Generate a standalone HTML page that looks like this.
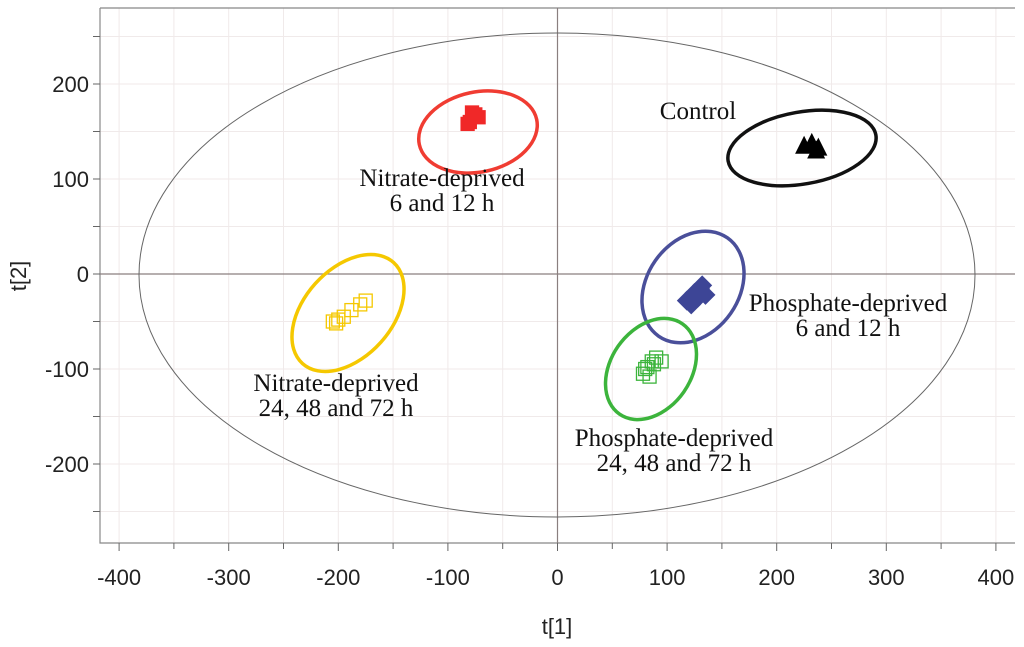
<!DOCTYPE html>
<html><head><meta charset="utf-8"><style>
html,body{margin:0;padding:0;background:#fff;width:1024px;height:647px;overflow:hidden}
svg{display:block}
.tk{font-family:"Liberation Sans",sans-serif;font-size:22px;fill:#222}
.lb{font-family:"Liberation Serif",serif;font-size:25px;fill:#111}
</style></head><body>
<svg id="chart" width="1024" height="647" xmlns="http://www.w3.org/2000/svg">
<g id="grid"></g>
<g id="axes"></g>
<g id="marks"></g>
<g id="labels"></g>
</svg>
<script>
const xTicks=[-400,-300,-200,-100,0,100,200,300,400];
const yTicks=[-200,-100,0,100,200];
const redX=[-80,-75,-72,-82,-78];
const redY=[160,168,165,158,170];
const blackX=[225,232,238,236];
const blackY=[135,138,133,130];
const blueX=[118,125,130,135,122,128,132];
const blueY=[-28,-20,-15,-22,-32,-25,-12];
const greenX=[78,82,86,90,95,80,88,84];
const greenY=[-105,-98,-92,-88,-92,-100,-95,-108];
const yellowX=[-205,-200,-195,-188,-180,-175,-202];
const yellowY=[-50,-48,-45,-38,-32,-28,-52];
const NS="http://www.w3.org/2000/svg";
const X=v=>557.5+v*1.096;
const Y=v=>274+v*-0.95;
function mk(p,t,a){const e=document.createElementNS(NS,t);for(const k in a)e.setAttribute(k,a[k]);p.appendChild(e);return e;}
const grid=document.getElementById('grid'),axes=document.getElementById('axes'),marks=document.getElementById('marks'),labels=document.getElementById('labels');
for(let v=-400;v<=450;v+=50){let g=mk(grid,'line',{x1:X(v),x2:X(v),y1:8,y2:543,stroke:'#f0eaea','stroke-width':1});}
for(let v=-250;v<=250;v+=50){let g=mk(grid,'line',{x1:100,x2:1015,y1:Y(v),y2:Y(v),stroke:'#f0eaea','stroke-width':1});}
let fr=mk(axes,'path',{d:'M100,8 H1015 M100,8 V543 H1015',fill:'none',stroke:'#888','stroke-width':1.2});

for(let v=-400;v<=400;v+=50){let t=mk(axes,'line',{x1:X(v),x2:X(v),y1:543,y2:v%100===0?551:549,stroke:'#666'});}
for(let v=-250;v<=250;v+=50){let t=mk(axes,'line',{x1:93,x2:100,y1:Y(v),y2:Y(v),stroke:'#666'});}
xTicks.forEach(v=>{let t=mk(axes,'text',{x:X(v),y:585,'text-anchor':'middle',class:'tk'});t.textContent=v;});
yTicks.forEach(v=>{let t=mk(axes,'text',{x:89,y:Y(v)+8,'text-anchor':'end',class:'tk'});t.textContent=v;});
let xt=mk(axes,'text',{x:557,y:634,'text-anchor':'middle',class:'tk'});xt.textContent='t[1]';
let yt=mk(axes,'text',{x:0,y:0,'text-anchor':'middle',class:'tk',transform:'translate(26,276) rotate(-90)'});yt.textContent='t[2]';
let z1=mk(axes,'line',{x1:X(0),x2:X(0),y1:8,y2:543,stroke:'#8a7f7f','stroke-width':1.2});
let z2=mk(axes,'line',{x1:100,x2:1015,y1:Y(0),y2:Y(0),stroke:'#8a7f7f','stroke-width':1.2});
let he=mk(marks,'ellipse',{cx:557,cy:275,rx:418,ry:242,fill:'none',stroke:'#666','stroke-width':1});
function ell(name,cx,cy,rx,ry,rot,col){let e=mk(marks,'ellipse',{cx:cx,cy:cy,rx:rx,ry:ry,fill:'none',stroke:col,'stroke-width':3.5,transform:`rotate(${rot} ${cx} ${cy})`});}
ell('red-ellipse',478,132,60,40,-12,'#f03c32');
ell('black-ellipse',802,148,75,36,-10,'#111');
ell('blue-ellipse',693,287,60,46,-55,'#4a4f9a');
ell('green-ellipse',651,369,55,40,-55,'#3cb43c');
ell('yellow-ellipse',348,313,68,44,-48,'#f5c800');
function sq(xs,ys,col,fill,name){xs.forEach((v,i)=>{let r=mk(marks,'rect',{x:X(v)-6.5,y:Y(ys[i])-6.5,width:13,height:13,fill:fill?col:'none',stroke:col,'stroke-width':1.3});});}
sq(redX,redY,'#f02828',true,'red-point');
sq(greenX,greenY,'#3cb43c',false,'green-point');
sq(yellowX,yellowY,'#f5c800',false,'yellow-point');
blackX.forEach((v,i)=>{const x=X(v),y=Y(blackY[i]);let p=mk(marks,'path',{d:`M${x},${y-10}L${x+9},${y+8}L${x-9},${y+8}Z`,fill:'#000'});});
blueX.forEach((v,i)=>{const x=X(v),y=Y(blueY[i]);let p=mk(marks,'path',{d:`M${x},${y-10}L${x+10},${y}L${x},${y+10}L${x-10},${y}Z`,fill:'#3d4596'});});
function lab(name,x,y,lines){let t=mk(labels,'text',{x:x,y:y,'text-anchor':'middle',class:'lb'});lines.forEach((s,i)=>{let ts=mk(t,'tspan',{x:x,dy:i?25:0});ts.textContent=s;});}
lab('label-nitrate-early',442,186,['Nitrate-deprived','6 and 12 h']);
lab('label-control',698,119,['Control']);
lab('label-phosphate-early',848,311,['Phosphate-deprived','6 and 12 h']);
lab('label-nitrate-late',336,391,['Nitrate-deprived','24, 48 and 72 h']);
lab('label-phosphate-late',674,446,['Phosphate-deprived','24, 48 and 72 h']);
</script>
</body></html>
